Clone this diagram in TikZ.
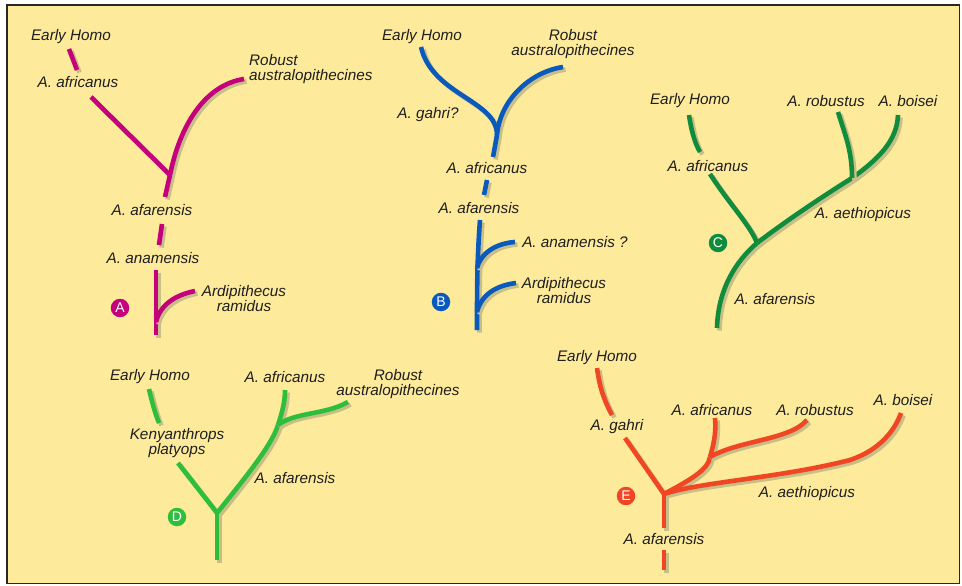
\documentclass[tikz,border=0pt]{standalone}
\usepackage{fontspec}
\setmainfont{Liberation Sans}
\definecolor{bg}{RGB}{253,234,155}
\definecolor{shad}{RGB}{200,190,135}
\definecolor{txt}{RGB}{30,30,30}
\definecolor{magA}{RGB}{196,0,125}
\definecolor{blueB}{RGB}{10,90,190}
\definecolor{greenC}{RGB}{15,140,60}
\definecolor{greenD}{RGB}{45,190,60}
\definecolor{redE}{RGB}{240,70,35}
\tikzset{
  lbl/.style={inner sep=0pt, align=center, text=txt, font=\fontsize{15.3}{15}\selectfont\itshape},
  br/.style={line width=4.6pt, preaction={draw=shad, line width=4.6pt, transform canvas={xshift=2.5pt,yshift=-2.5pt}}},
  badge/.style={circle, inner sep=0pt, minimum size=18.5pt, text=white, font=\fontsize{14}{14}\selectfont},
}
\begin{document}
\begin{tikzpicture}[x=1pt,y=-1pt]
\useasboundingbox (0,0) rectangle (962,586);
\fill[white] (0,0) rectangle (962,586);
\draw[fill=bg, line width=1.5pt, draw=black!85] (7,5) rectangle (959.5,583.5);

% ---------- Tree A ----------
\node[lbl] (aEH) at (71,37) {Early Homo};
\node[lbl] (aAf) at (78,82) {A. africanus};
\node[lbl, anchor=west, align=left] (aRob) at (249,69.5) {Robust\\australopithecines};
\node[lbl] (aAfa) at (152,210) {A. afarensis};
\node[lbl] (aAna) at (153,258) {A. anamensis};
\node[lbl] (aArd) at (244,299) {Ardipithecus\\ramidus};
\node[badge, fill=magA] (aBadge) at (120,308) {A};
\coordinate (a1) at (69,49); \coordinate (a2) at (77,70);
\coordinate (a3) at (91,97); \coordinate (aJ) at (170,175);
\coordinate (a4) at (244,79); \coordinate (a5) at (165,197);
\coordinate (a6) at (162,224); \coordinate (a7) at (159,245);
\coordinate (a8) at (156,270); \coordinate (a9) at (156,335);
\coordinate (a10) at (156,322); \coordinate (a11) at (195,291);
\begin{scope}[draw=magA]
\draw[br] (a1) -- (a2);
\draw[br] (a3) -- (aJ);
\draw[br] (aJ) .. controls (180,125) and (205,85) .. (a4);
\draw[br] (aJ) -- (a5);
\draw[br] (a6) -- (a7);
\draw[br] (a8) -- (a9);
\draw[br] (a10) .. controls (160,305) and (175,295) .. (a11);
\end{scope}

% ---------- Tree B ----------
\node[lbl] (bEH) at (422,37) {Early Homo};
\node[lbl] (bRob) at (573,44.5) {Robust\\australopithecines};
\node[lbl] (bGa) at (428,115) {A. gahri?};
\node[lbl] (bAf) at (487,168) {A. africanus};
\node[lbl] (bAfa) at (479,208) {A. afarensis};
\node[lbl] (bAna) at (575,242) {A. anamensis ?};
\node[lbl] (bArd) at (564,290.5) {Ardipithecus\\ramidus};
\node[badge, fill=blueB] (bBadge) at (441,302) {B};
\coordinate (b1) at (421,47); \coordinate (bJ) at (497,135);
\coordinate (b2) at (563,67); \coordinate (b3) at (493,157);
\coordinate (b4) at (487,180); \coordinate (b5) at (484,195);
\coordinate (b6) at (480,220); \coordinate (b7) at (477,330);
\coordinate (b8) at (477,268); \coordinate (b9) at (515,242);
\coordinate (b10) at (477,312); \coordinate (b11) at (516,283);
\begin{scope}[draw=blueB]
\draw[br] (b1) .. controls (432,95) and (497,100) .. (bJ);
\draw[br] (bJ) .. controls (500,100) and (530,72) .. (b2);
\draw[br] (bJ) -- (b3);
\draw[br] (b4) -- (b5);
\draw[br] (b6) .. controls (477,260) and (477,290) .. (b7);
\draw[br] (b8) .. controls (482,250) and (500,243) .. (b9);
\draw[br] (b10) .. controls (482,292) and (500,285) .. (b11);
\end{scope}

% ---------- Tree C ----------
\node[lbl] (cEH) at (690,101) {Early Homo};
\node[lbl] (cRob) at (826,101) {A. robustus};
\node[lbl] (cBoi) at (908,101) {A. boisei};
\node[lbl] (cAf) at (708,166) {A. africanus};
\node[lbl] (cAet) at (863,215) {A. aethiopicus};
\node[lbl] (cAfa) at (775,299) {A. afarensis};
\node[badge, fill=greenC] (cBadge) at (718,243) {C};
\coordinate (c1) at (689,115); \coordinate (c2) at (700,152);
\coordinate (c3) at (710,174); \coordinate (cJ) at (757,243);
\coordinate (c4) at (717,328); \coordinate (cJ2) at (852,178);
\coordinate (c5) at (898,115); \coordinate (c6) at (838,112);
\begin{scope}[draw=greenC]
\draw[br] (c1) .. controls (692,135) and (696,145) .. (c2);
\draw[br] (c3) .. controls (730,205) and (750,225) .. (cJ);
\draw[br] (c4) .. controls (718,290) and (735,262) .. (cJ);
\draw[br] (cJ) .. controls (790,218) and (825,195) .. (cJ2);
\draw[br] (cJ2) .. controls (880,158) and (897,140) .. (c5);
\draw[br] (c6) .. controls (845,135) and (852,150) .. (cJ2);
\end{scope}

% ---------- Tree D ----------
\node[lbl] (dEH) at (150,377) {Early Homo};
\node[lbl] (dAf) at (285,377) {A. africanus};
\node[lbl] (dRob) at (398,384) {Robust\\australopithecines};
\node[lbl] (dKen) at (177,443) {Kenyanthrops\\platyops};
\node[lbl] (dAfa) at (295,478) {A. afarensis};
\node[badge, fill=greenD] (dBadge) at (177,517) {D};
\coordinate (d1) at (149,389); \coordinate (d2) at (159,423);
\coordinate (d3) at (178,463); \coordinate (dJ) at (217,513);
\coordinate (dJ2) at (278,425); \coordinate (d4) at (285,390);
\coordinate (d5) at (348,402); \coordinate (d6) at (217,560);
\begin{scope}[draw=greenD]
\draw[br] (d1) .. controls (152,402) and (155,413) .. (d2);
\draw[br] (d3) -- (dJ);
\draw[br] (dJ) .. controls (245,478) and (272,445) .. (dJ2);
\draw[br] (dJ2) .. controls (283,410) and (285,400) .. (d4);
\draw[br] (dJ2) .. controls (295,412) and (325,415) .. (d5);
\draw[br] (dJ) -- (d6);
\end{scope}

% ---------- Tree E ----------
\node[lbl] (eEH) at (597,358) {Early Homo};
\node[lbl] (eGa) at (617,427) {A. gahri};
\node[lbl] (eAf) at (712,410) {A. africanus};
\node[lbl] (eRob) at (815,410) {A. robustus};
\node[lbl] (eBoi) at (903,400) {A. boisei};
\node[lbl] (eAet) at (807,494) {A. aethiopicus};
\node[lbl] (eAfa) at (664,539) {A. afarensis};
\node[badge, fill=redE] (eBadge) at (626,496) {E};
\coordinate (e1) at (597,368); \coordinate (e2) at (612,415);
\coordinate (e3) at (625,438); \coordinate (eJ) at (664,494);
\coordinate (e4) at (664,528); \coordinate (e5) at (664,550);
\coordinate (e6) at (664,570); \coordinate (eJ2) at (710,457);
\coordinate (e7) at (715,418); \coordinate (e8) at (807,420);
\coordinate (e9) at (850,460); \coordinate (e10) at (901,413);
\begin{scope}[draw=redE]
\draw[br] (e1) .. controls (600,390) and (605,402) .. (e2);
\draw[br] (e3) -- (eJ);
\draw[br] (eJ) -- (e4);
\draw[br] (e5) -- (e6);
\draw[br] (eJ) .. controls (690,480) and (708,470) .. (eJ2);
\draw[br] (eJ2) .. controls (715,440) and (716,430) .. (e7);
\draw[br] (eJ2) .. controls (740,440) and (790,440) .. (e8);
\draw[br] (eJ) .. controls (700,482) and (780,478) .. (e9) .. controls (880,450) and (895,430) .. (e10);
\end{scope}
\end{tikzpicture}
\end{document}
